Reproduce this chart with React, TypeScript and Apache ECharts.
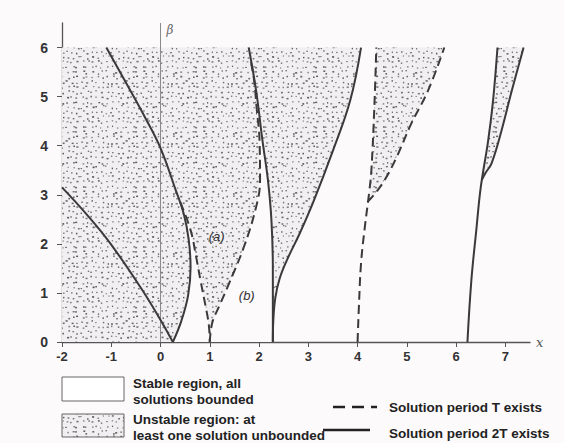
import React, { useEffect, useRef } from 'react';
import * as echarts from 'echarts';

// Tick labels
const xTicks = [-2, -1, 0, 1, 2, 3, 4, 5, 6, 7];
const yTicks = [0, 1, 2, 3, 4, 5, 6];

// Transition curves (alpha, beta)
// solid = solution of period 2T exists, dashed = solution of period T exists
const curveA = [[-2, 3.15], [-1.5, 2.6], [-1.02, 2.01], [-0.41, 1.12], [0, 0.45], [0.25, 0]];
const curveB = [[-1.1, 6], [-0.61, 5.12], [-0.3, 4.55], [0, 3.95], [0.31, 3.09], [0.47, 2.62], [0.57, 2.1], [0.61, 1.52], [0.56, 0.95], [0.42, 0.42], [0.25, 0]];
const curveCLeft = [[0.4, 2.85], [0.61, 2.28], [0.72, 1.75], [0.81, 1.26], [0.92, 0.7], [0.98, 0.35], [1, 0]];
const curveCRight = [[1, 0], [1.05, 0.39], [1.2, 0.75], [1.36, 1.12], [1.69, 1.93], [1.94, 2.75], [2.02, 3.29], [2.01, 4.1], [1.95, 4.78], [1.9, 5.33], [1.84, 5.68]];
const curveDLeft = [[1.79, 6], [1.94, 5.12], [2.07, 4.1], [2.18, 3.3], [2.25, 2.5], [2.28, 1.5], [2.28, 0]];
const curveDRight = [[2.28, 0], [2.29, 0.45], [2.33, 0.9], [2.42, 1.3], [2.58, 1.7], [2.82, 2.2], [3.1, 2.85], [3.5, 3.9], [3.85, 4.92], [4.07, 6]];
const curveE = [[4, 0], [4.03, 0.8], [4.07, 1.6], [4.14, 2.28], [4.24, 3.09], [4.28, 3.5], [4.34, 4.78], [4.38, 6]];
const curveF = [[4.2, 2.85], [4.35, 3.02], [4.55, 3.3], [4.79, 3.76], [5.09, 4.45], [5.43, 5.12], [5.76, 6]];
const curveG = [[6.23, 0], [6.31, 1.26], [6.41, 2.28], [6.5, 3.15], [6.65, 4.1], [6.75, 4.92], [6.84, 6]];
const curveH = [[6.52, 3.3], [6.6, 3.45], [6.72, 3.64], [6.92, 4.3], [7.13, 5.12], [7.37, 6]];

const solidCurves = [curveA, curveB, curveDLeft, curveDRight, curveG, curveH];
const dashedCurves = [curveCLeft, curveCRight, curveE, curveF];

const BG = '#fdfafc';
const INK = '#3a3a3a';
const FONT = '"Liberation Sans", Arial, sans-serif';

function makeStipple(): string {
  const size = 60;
  const cell = 5;
  const c = document.createElement('canvas');
  c.width = size;
  c.height = size;
  const ctx = c.getContext('2d')!;
  ctx.fillStyle = '#f1eff1';
  ctx.fillRect(0, 0, size, size);
  let s = 987654321;
  const rnd = () => {
    s = (Math.imul(s, 1103515245) + 12345) >>> 0;
    return s / 4294967296;
  };
  for (let gy = 0; gy < size; gy += cell) {
    for (let gx = 0; gx < size; gx += cell) {
      const x = gx + rnd() * (cell - 1.5);
      const y = gy + rnd() * (cell - 1.5);
      const w = 1.1 + rnd() * 1.1;
      const h = 1 + rnd() * 0.7;
      const g = Math.round(85 + rnd() * 45);
      ctx.fillStyle = `rgb(${g},${g},${g})`;
      ctx.fillRect(x, y, w, h);
    }
  }
  return c.toDataURL();
}

export default function App() {
  const ref = useRef<HTMLDivElement>(null);
  useEffect(() => {
    document.body.style.margin = '0';
    document.body.style.background = BG;
    if (!ref.current) return;
    const chart = echarts.init(ref.current, null, { renderer: 'svg' });
    const stipple = { image: makeStipple(), repeat: 'repeat', imageWidth: 60, imageHeight: 60 };

    // Regions built from the curves
    const unstableMain = [[-2, 0], [-2, 6], ...curveDRight.slice().reverse()];
    const stableSliver = [...curveCLeft, ...curveB.filter((p) => p[1] < 2.85).slice().reverse()];
    const stableB = [...curveCRight, ...curveDLeft.filter((p) => p[1] < 5.68)];
    const unstableEF = [...curveF, ...curveE.filter((p) => p[1] > 2.9).slice().reverse()];
    const unstableGH = [...curveH, ...curveG.filter((p) => p[1] > 3.3).slice().reverse()];

    const polySeries = (pts: number[][], fill: any, z: number) => ({
      type: 'custom',
      coordinateSystem: 'cartesian2d',
      silent: true,
      z,
      data: [[pts[0][0], pts[0][1]]],
      renderItem: (_p: any, api: any) => ({
        type: 'polygon',
        shape: { points: pts.map((p) => api.coord(p)), smooth: 0 },
        style: { fill, stroke: null },
      }),
    });

    const lineSeries = (pts: number[][], dashed: boolean) => ({
      type: 'line',
      data: pts,
      symbol: 'none',
      showSymbol: false,
      smooth: 0.4,
      silent: true,
      z: 4,
      lineStyle: { color: INK, width: 2, type: dashed ? [9, 5] : 'solid' },
    });

    const option: any = {
      animation: false,
      backgroundColor: BG,
      grid: { left: 62, right: 34, top: 23, bottom: 101, outerBoundsMode: 'none' },
      xAxis: {
        type: 'value',
        min: -2,
        max: 7.5,
        interval: 1,
        name: 'x',
        nameLocation: 'end',
        nameGap: 6,
        nameTextStyle: { fontStyle: 'italic', fontFamily: '"DejaVu Serif", serif', fontSize: 13, color: '#555', verticalAlign: 'middle' },
        axisLine: { show: true, onZero: false, lineStyle: { color: '#555', width: 1.3 } },
        axisTick: { show: true, length: 5, customValues: xTicks, lineStyle: { color: '#555' } },
        axisLabel: { customValues: xTicks, margin: 8, fontSize: 13, fontWeight: 'bold', fontFamily: FONT, color: '#333' },
        splitLine: { show: false },
      },
      yAxis: {
        type: 'value',
        min: 0,
        max: 6.5,
        interval: 1,
        axisLine: { show: true, onZero: false, lineStyle: { color: '#555', width: 1.3 } },
        axisTick: { show: true, length: 5, customValues: yTicks, lineStyle: { color: '#555' } },
        axisLabel: { customValues: yTicks, margin: 14, fontSize: 14, fontWeight: 'bold', fontFamily: FONT, color: '#333' },
        splitLine: { show: false },
      },
      series: [
        polySeries(unstableMain, stipple, 1),
        polySeries(stableSliver, BG, 2),
        polySeries(stableB, BG, 2),
        polySeries(unstableEF, stipple, 1),
        polySeries(unstableGH, stipple, 1),
        {
          type: 'line',
          data: [[0, 0], [0, 6.5]],
          symbol: 'none',
          silent: true,
          z: 3,
          lineStyle: { color: '#8a8a8a', width: 1 },
        },
        ...solidCurves.map((c) => lineSeries(c, false)),
        ...dashedCurves.map((c) => lineSeries(c, true)),
        {
          type: 'custom',
          coordinateSystem: 'cartesian2d',
          silent: true,
          z: 6,
          data: [[0, 0]],
          renderItem: (_p: any, api: any) => {
            const pa = api.coord([1.14, 2.14]);
            const pb = api.coord([1.75, 0.94]);
            const pbeta = api.coord([0, 6.5]);
            return {
              type: 'group',
              children: [
                { type: 'text', x: pa[0], y: pa[1], style: { text: '(a)', fontStyle: 'italic', fontSize: 13, fontFamily: FONT, fill: '#333', align: 'center', verticalAlign: 'middle' } },
                { type: 'text', x: pb[0], y: pb[1], style: { text: '(b)', fontStyle: 'italic', fontSize: 13, fontFamily: FONT, fill: '#333', align: 'center', verticalAlign: 'middle' } },
                { type: 'text', x: pbeta[0] + 6, y: pbeta[1] + 7, style: { text: 'β', fontStyle: 'italic', fontSize: 12, fontFamily: '"DejaVu Serif", serif', fill: '#666', align: 'left', verticalAlign: 'middle' } },
              ],
            };
          },
        },
      ],
      graphic: [
        { type: 'rect', shape: { x: 62, y: 377, width: 62, height: 24 }, style: { fill: '#ffffff', stroke: '#666', lineWidth: 1 } },
        { type: 'rect', shape: { x: 62, y: 414, width: 62, height: 23 }, style: { fill: stipple, stroke: '#666', lineWidth: 1 } },
        { type: 'text', x: 133, y: 383, style: { text: 'Stable region, all', fontSize: 13.5, fontWeight: 'bold', fontFamily: FONT, fill: '#222', verticalAlign: 'middle' } },
        { type: 'text', x: 133, y: 399, style: { text: 'solutions bounded', fontSize: 13.5, fontWeight: 'bold', fontFamily: FONT, fill: '#222', verticalAlign: 'middle' } },
        { type: 'text', x: 133, y: 419, style: { text: 'Unstable region: at', fontSize: 13.5, fontWeight: 'bold', fontFamily: FONT, fill: '#222', verticalAlign: 'middle' } },
        { type: 'text', x: 133, y: 435, style: { text: 'least one solution unbounded', fontSize: 13.5, fontWeight: 'bold', fontFamily: FONT, fill: '#222', verticalAlign: 'middle' } },
        { type: 'line', shape: { x1: 333, y1: 407, x2: 377, y2: 407 }, style: { stroke: '#222', lineWidth: 2.5, lineDash: [12, 7] } },
        { type: 'text', x: 389, y: 407, style: { text: 'Solution period T exists', fontSize: 13.5, fontWeight: 'bold', fontFamily: FONT, fill: '#222', verticalAlign: 'middle' } },
        { type: 'line', shape: { x1: 323, y1: 430, x2: 370, y2: 430 }, style: { stroke: '#222', lineWidth: 2.5 } },
        { type: 'text', x: 389, y: 433, style: { text: 'Solution period 2T exists', fontSize: 13.5, fontWeight: 'bold', fontFamily: FONT, fill: '#222', verticalAlign: 'middle' } },
      ],
    };
    chart.setOption(option);
    return () => chart.dispose();
  }, []);
  return <div ref={ref} style={{ width: 564, height: 443 }} />;
}
